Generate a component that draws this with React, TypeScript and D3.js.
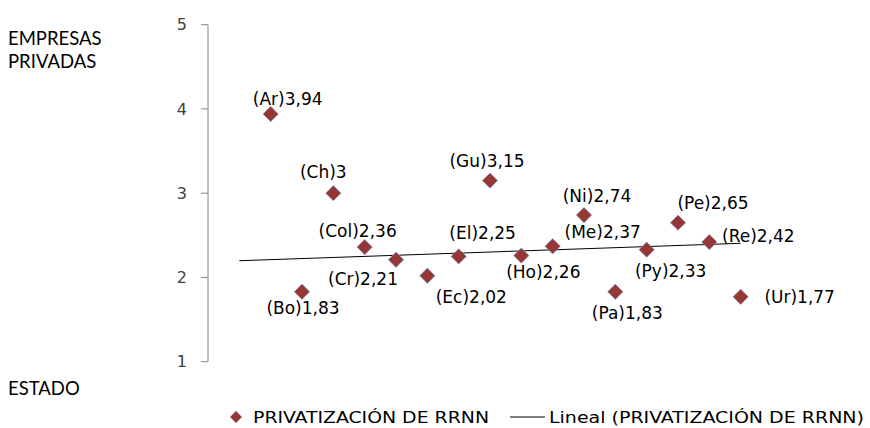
import * as d3 from "d3";

const countries = ["Ar", "Bo", "Ch", "Col", "Cr", "Ec", "El", "Gu", "Ho", "Me", "Ni", "Pa", "Py", "Pe", "Re", "Ur"];
const values = [3.94, 1.83, 3, 2.36, 2.21, 2.02, 2.25, 3.15, 2.26, 2.37, 2.74, 1.83, 2.33, 2.65, 2.42, 1.77];
const yTicks = [1, 2, 3, 4, 5];
// the sheet had an empty first row, which Excel counted as 0 for the trendline
const trendValues = [0, ...values];

// where each data label sits relative to its marker (hand placed in the original)
const labelOffsets: [number, number][] = [
  [17, -15], [1, 16], [-10, -21], [-7, -16], [-33, 19], [44, 21], [24, -24], [-3, -20],
  [22, 16], [50, -14], [13, -19], [12, 21], [24, 21], [35, -20], [49, -6], [59, 0],
];

const W = 870;
const H = 428;
const RED = "#953735";
const FONT = "'DejaVu Sans', sans-serif";
const NARROW = "'DejaVu Sans Condensed', 'DejaVu Sans', sans-serif";
const SIDE_FONT = "Lato, sans-serif";

const fmt = (v: number) => String(v).replace(".", ",");

export default function App() {
  const x = d3.scaleLinear().domain([0, 18]).range([208, 772]);
  const y = d3.scaleLinear().domain([1, 5]).range([361.7, 24.7]);

  // least squares over x = 1..17
  const tx = trendValues.map((_, i) => i + 1);
  const mx = d3.mean(tx)!;
  const my = d3.mean(trendValues)!;
  const slope =
    d3.sum(tx, (xi, i) => (xi - mx) * (trendValues[i] - my)) / d3.sum(tx, (xi) => (xi - mx) ** 2);
  const intercept = my - slope * mx;
  const line = d3
    .line<number>()
    .x((d) => x(d))
    .y((d) => y(intercept + slope * d));

  const diamond = d3.symbol(d3.symbolDiamond2, 150)()!;
  const legendDiamond = d3.symbol(d3.symbolDiamond2, 90)()!;

  return (
    <svg width={W} height={H} style={{ position: "absolute", left: 0, top: 0 }}>
      <rect width={W} height={H} fill="#fff" />
      {/* y axis */}
      <line x1={x(0)} x2={x(0)} y1={y(5)} y2={y(1)} stroke="#868686" />
      {yTicks.map((t) => (
        <g key={t}>
          <line x1={x(0) - 7} x2={x(0)} y1={y(t)} y2={y(t)} stroke="#868686" />
          <text x={187} y={y(t)} dy="0.36em" textAnchor="end" fontFamily={FONT} fontSize={16} fill="#404040">
            {t}
          </text>
        </g>
      ))}

      <text fontFamily={SIDE_FONT} fontSize={18.5} fill="#000">
        <tspan x={8} y={45}>EMPRESAS</tspan>
        <tspan x={8} y={68}>PRIVADAS</tspan>
        <tspan x={8} y={395}>ESTADO</tspan>
      </text>

      <path d={line([1, 17]) || ""} fill="none" stroke="#000" strokeWidth={1} />

      {values.map((v, i) => (
        <path
          key={countries[i]}
          d={diamond}
          transform={`translate(${x(i + 2)},${y(v)})`}
          fill={RED}
          stroke="#7f9bc8"
          strokeWidth={0.6}
        />
      ))}
      {values.map((v, i) => (
        <text
          key={countries[i]}
          x={x(i + 2) + labelOffsets[i][0]}
          y={y(v) + labelOffsets[i][1]}
          dy="0.36em"
          textAnchor="middle"
          fontFamily={FONT}
          fontSize={17}
          fill="#000"
        >
          {`(${countries[i]})${fmt(v)}`}
        </text>
      ))}

      {/* legend */}
      <path d={legendDiamond} transform="translate(236,417)" fill={RED} />
      <text
        x={253}
        y={417}
        dy="0.36em"
        fontFamily={NARROW}
        fontSize={16}
        fill="#000"
        textLength={236}
        lengthAdjust="spacingAndGlyphs"
      >
        PRIVATIZACIÓN DE RRNN
      </text>
      <line x1={510} x2={545} y1={417} y2={417} stroke="#000" />
      <text
        x={549}
        y={417}
        dy="0.36em"
        fontFamily={NARROW}
        fontSize={16}
        fill="#000"
        textLength={315}
        lengthAdjust="spacingAndGlyphs"
      >
        Lineal (PRIVATIZACIÓN DE RRNN)
      </text>
    </svg>
  );
}
